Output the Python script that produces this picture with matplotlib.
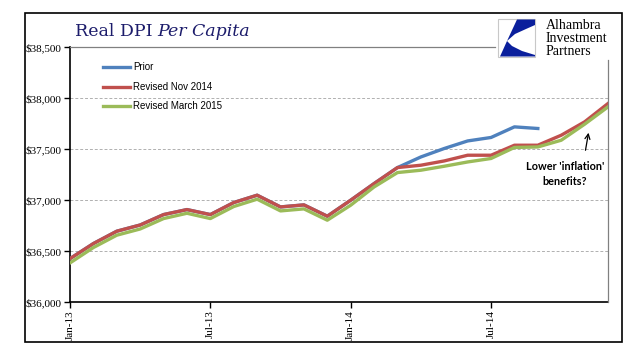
import numpy as np
import matplotlib
matplotlib.use('Agg')
import matplotlib.pyplot as plt
from matplotlib.patches import Rectangle, Polygon, FancyArrowPatch
from matplotlib.lines import Line2D

# monthly data, Jan-13 .. Dec-14
months = ['Jan-13', 'Feb-13', 'Mar-13', 'Apr-13', 'May-13', 'Jun-13',
          'Jul-13', 'Aug-13', 'Sep-13', 'Oct-13', 'Nov-13', 'Dec-13',
          'Jan-14', 'Feb-14', 'Mar-14', 'Apr-14', 'May-14', 'Jun-14',
          'Jul-14', 'Aug-14', 'Sep-14', 'Oct-14', 'Nov-14', 'Dec-14']

prior = [36425, 36573, 36694, 36755, 36857, 36906, 36857, 36975, 37047,
         36932, 36952, 36841, 36998, 37161, 37318, 37422, 37505, 37579,
         37613, 37717, 37701]
revised_nov14 = [36425, 36573, 36694, 36755, 36857, 36906, 36857, 36975,
                 37047, 36932, 36952, 36841, 36998, 37161, 37318, 37341,
                 37383, 37439, 37439, 37537, 37537, 37635, 37766, 37946]
revised_mar15 = [36383, 36534, 36655, 36716, 36818, 36870, 36818, 36936,
                 37008, 36893, 36913, 36802, 36949, 37128, 37269, 37292,
                 37331, 37373, 37407, 37515, 37520, 37586, 37743, 37913]

yticks = [36000, 36500, 37000, 37500, 38000, 38500]

W, H = 641, 358
fig = plt.figure(figsize=(W / 100, H / 100), dpi=100)

def px(x, y):
    # pixel position -> figure fraction
    return x / W, 1 - y / H

ax = fig.add_axes([70 / W, 1 - 302 / H, (608 - 70) / W, (302 - 47) / H])

x = np.arange(len(months))
ax.plot(x[:len(prior)], prior, color='#4F81BD', lw=2.4, zorder=3)
ax.plot(x, revised_nov14, color='#C0504D', lw=2.4, zorder=4)
ax.plot(x, revised_mar15, color='#9BBB59', lw=2.4, zorder=5)

ax.set_xlim(0, len(months) - 1)
ax.set_ylim(36000, 38500)
ax.set_yticks(yticks)
ax.set_yticklabels(['${:,}'.format(v) for v in yticks], family='Liberation Serif', fontsize=8)
ax.set_xticks(x[::6])
ax.set_xticklabels(months[::6], rotation=90, family='Liberation Serif', fontsize=8)
ax.tick_params(length=4, width=1, color='black', pad=2)

for v in yticks[1:-1]:
    ax.axhline(v, color='#b0b0b0', lw=0.7, ls=(0, (3, 2)), zorder=1)

ax.spines['top'].set_visible(False)
ax.spines['right'].set_visible(False)
ax.spines['left'].set_linewidth(1.2)
ax.spines['bottom'].set_linewidth(1.2)

# partial top / right frame (interrupted by logo)
fig.add_artist(Line2D([70 / W, 495 / W], [1 - 47 / H] * 2, color='#808080', lw=0.9))
fig.add_artist(Line2D([608 / W] * 2, [1 - 60 / H, 1 - 302 / H], color='#808080', lw=0.9))

# outer border
fig.add_artist(Rectangle(px(25, 342), (622 - 25) / W, (342 - 13) / H,
                         fill=False, ec='black', lw=1.2, transform=fig.transFigure))

# title
t1 = fig.text(*px(75, 36), 'Real DPI', family='DejaVu Serif', fontsize=12.5,
              color='#1c1c6b', va='baseline')
fig.canvas.draw()
bb = t1.get_window_extent()
fig.text(bb.x1 / W + 5 / W, 1 - 36 / H, 'Per Capita', family='DejaVu Serif',
         style='italic', fontsize=12.5, color='#1c1c6b', va='baseline')

# legend
leg = [('Prior', '#4F81BD', 67), ('Revised Nov 2014', '#C0504D', 87),
       ('Revised March 2015', '#9BBB59', 106)]
for label, c, yy in leg:
    fig.add_artist(Line2D([103 / W, 130 / W], [1 - yy / H] * 2, color=c, lw=2.4))
    fig.text(*px(133, yy), label, family='Liberation Sans', fontsize=7, va='center')

# logo
fig.add_artist(Rectangle(px(498, 57), 37 / W, 38 / H, fc='white', ec='#c8c8c8',
                         lw=0.8, transform=fig.transFigure))
upper = [(517, 19.5), (535, 19.5), (535, 25), (526, 29), (515, 34), (507, 41)]
lower = [(507, 41), (500, 56.5), (535, 56.5), (535, 55), (522, 51), (512, 46)]
for poly in (upper, lower):
    fig.add_artist(Polygon([px(a, b) for a, b in poly], closed=True, fc='#0a1f9c',
                           ec='none', transform=fig.transFigure))
for i, word in enumerate(['Alhambra', 'Investment', 'Partners']):
    fig.text(*px(546, 29 + 13 * i), word, family='Liberation Serif',
             fontsize=10, va='baseline')

# annotation
fig.text(*px(565, 166), "Lower 'inflation'", family='Lato', weight='bold',
         fontsize=7.8, ha='center', va='center')
fig.text(*px(565, 181), "benefits?", family='Lato', weight='bold',
         fontsize=7.8, ha='center', va='center')
fig.add_artist(FancyArrowPatch(px(585, 153), px(589, 130),
               arrowstyle='->', mutation_scale=9, lw=0.9, color='black',
               transform=fig.transFigure))

fig.savefig('out.png', dpi=100)
